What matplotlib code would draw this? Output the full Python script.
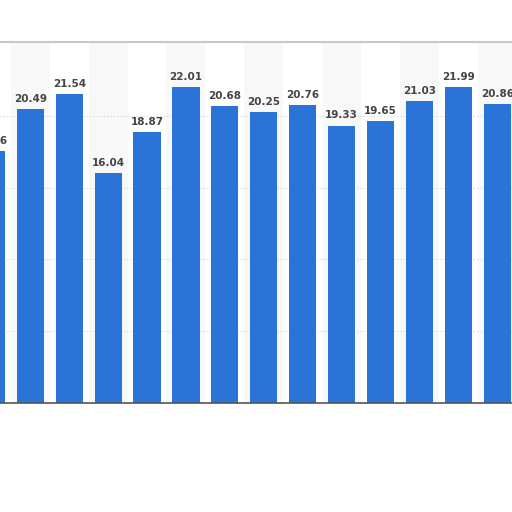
import matplotlib.pyplot as plt

# bar values, left to right (first and last bar are cut off by the crop)
values = [17.56, 20.49, 21.54, 16.04, 18.87, 22.01, 20.68, 20.25,
          20.76, 19.33, 19.65, 21.03, 21.99, 20.86]
labels = [f"{v:.2f}" for v in values]
positions = list(range(len(values)))

bar_color = "#2a74d8"

fig = plt.figure(figsize=(5.12, 5.12), dpi=100)
ax = fig.add_axes([0, 0.213, 1, 0.705])

# light alternating column bands
for i in positions:
    if i % 2 == 1:
        ax.axvspan(i - 0.5, i + 0.5, color="#f8f8f8", zorder=0, lw=0)

ax.set_ylim(0, 25.15)
ax.set_xlim(0.221, 13.38)

for y in [5, 10, 15, 20]:
    ax.axhline(y, color="#d2d2d2", lw=0.8, ls=(0, (1, 2)), zorder=1)

bars = ax.bar(positions, values, width=0.7, color=bar_color, zorder=2)

for x, v, lab in zip(positions, values, labels):
    ax.text(x, v + 0.35, lab, ha="center", va="bottom", fontsize=7.5,
            fontweight="bold", color="#444444", zorder=3)

ax.set_xticks([])
ax.set_yticks([])
for side in ["left", "right"]:
    ax.spines[side].set_visible(False)
ax.spines["top"].set_color("#c8c8c8")
ax.spines["top"].set_linewidth(1.5)
ax.spines["bottom"].set_color("#555555")
ax.spines["bottom"].set_linewidth(1.2)

plt.savefig("out.png", dpi=100)
